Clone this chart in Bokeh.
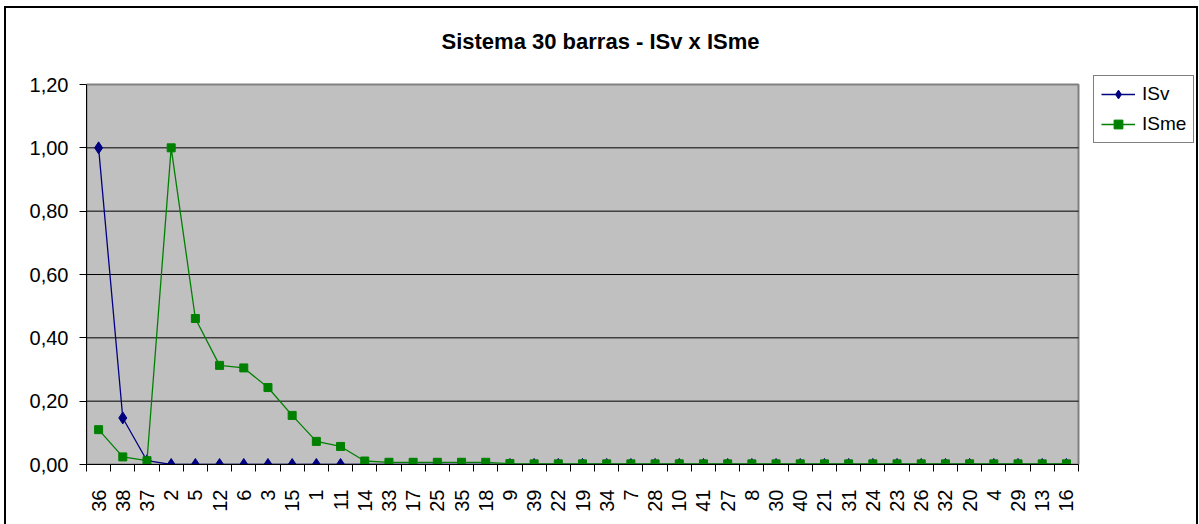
import math
from bokeh.plotting import figure
from bokeh.models import FixedTicker, Legend, LegendItem, Range1d, Label
from bokeh.embed import file_html
from bokeh.resources import INLINE

categories = ["36", "38", "37", "2", "5", "12", "6", "3", "15", "1", "11", "14", "33", "17",
              "25", "35", "18", "9", "39", "22", "19", "34", "7", "28", "10", "41", "27", "8",
              "30", "40", "21", "31", "24", "23", "26", "32", "20", "4", "29", "13", "16"]

isv = [1.000, 0.147, 0.012, 0.000, 0.000, 0.000, 0.000, 0.000, 0.000, 0.000, 0.000, 0.000,
       0.000, 0.000, 0.000, 0.000, 0.000, 0.000, 0.000, 0.000, 0.000, 0.000, 0.000, 0.000,
       0.000, 0.000, 0.000, 0.000, 0.000, 0.000, 0.000, 0.000, 0.000, 0.000, 0.000, 0.000,
       0.000, 0.000, 0.000, 0.000, 0.000]

isme = [0.110, 0.024, 0.012, 1.000, 0.461, 0.313, 0.305, 0.243, 0.155, 0.073, 0.057, 0.011,
        0.007, 0.007, 0.007, 0.007, 0.007, 0.003, 0.002, 0.002, 0.002, 0.002, 0.002, 0.002,
        0.002, 0.002, 0.002, 0.002, 0.002, 0.002, 0.002, 0.002, 0.002, 0.002, 0.002, 0.002,
        0.002, 0.002, 0.002, 0.002, 0.002]

y_ticks = [0.0, 0.2, 0.4, 0.6, 0.8, 1.0, 1.2]
y_labels = ["0,00", "0,20", "0,40", "0,60", "0,80", "1,00", "1,20"]

TITLE = "Sistema 30 barras - ISv x ISme"
FONT = "Liberation Sans"
n = len(categories)
xs = [i + 0.5 for i in range(n)]
y_top = y_ticks[-1]

# layout (pixels, page coordinates of the reference)
AREA_LEFT, AREA_RIGHT = 86, 1078     # grey plot area
AREA_TOP, AREA_BOTTOM = 84, 464
FRAME_TOP, FRAME_RIGHT = 10, 1196
FRAME_W = FRAME_RIGHT - AREA_LEFT
FRAME_H = AREA_BOTTOM - FRAME_TOP
px_x = (AREA_RIGHT - AREA_LEFT) / n          # pixels per category
px_y = (AREA_BOTTOM - AREA_TOP) / y_top      # pixels per unit
x_end = FRAME_W / px_x
y_end = FRAME_H / px_y

p = figure(frame_width=FRAME_W, frame_height=FRAME_H, output_backend="svg",
           toolbar_location=None, title_location=None,
           x_range=Range1d(0, x_end), y_range=Range1d(0, y_end),
           min_border_left=80, min_border_right=0, min_border_top=2, min_border_bottom=60)
p.styles = {"border-top": "2px solid black", "border-left": "2px solid black",
            "border-right": "2px solid black", "margin-left": "4px", "margin-top": "6px"}

p.background_fill_color = "white"
p.border_fill_color = "white"
p.outline_line_color = None

# title
p.add_layout(Label(x=(600 - AREA_LEFT) / px_x, y=(AREA_BOTTOM - 41) / px_y, text=TITLE,
                   text_align="center", text_baseline="alphabetic",
                   text_font=FONT, text_font_size="22px", text_font_style="bold",
                   text_color="black"))

# grey plot area and its gridlines
p.quad(left=[0], right=[n], bottom=[0], top=[y_top], fill_color="#C0C0C0",
       line_color="#808080", line_width=2)
p.segment(x0=[0] * (len(y_ticks) - 2), x1=[n] * (len(y_ticks) - 2),
          y0=y_ticks[1:-1], y1=y_ticks[1:-1], line_color="black", line_width=1)

# y axis
p.yaxis.bounds = (0, y_top)
p.yaxis.ticker = FixedTicker(ticks=y_ticks)
p.yaxis.major_label_overrides = {t: l for t, l in zip(y_ticks, y_labels)}
p.yaxis.major_label_text_font = FONT
p.yaxis.major_label_text_font_size = "20px"
p.yaxis.major_label_text_color = "black"
p.yaxis.major_tick_out = 7
p.yaxis.major_tick_in = 0
p.yaxis.minor_tick_out = 0
p.yaxis.minor_tick_in = 0
p.yaxis.major_label_standoff = 11
p.yaxis.axis_line_color = "black"
p.yaxis.major_tick_line_color = "black"

# x axis
p.xaxis.bounds = (0, n)
p.xaxis.ticker = FixedTicker(ticks=xs, minor_ticks=list(range(n + 1)))
p.xaxis.major_label_overrides = {x: c for x, c in zip(xs, categories)}
p.xaxis.major_label_orientation = math.pi / 2
p.xaxis.major_label_text_font = FONT
p.xaxis.major_label_text_font_size = "20px"
p.xaxis.major_label_text_color = "black"
p.xaxis.major_tick_out = 0
p.xaxis.major_tick_in = 0
p.xaxis.minor_tick_out = 7
p.xaxis.minor_tick_in = 0
p.xaxis.minor_tick_line_color = "black"
p.xaxis.major_label_standoff = 18
p.xaxis.axis_line_color = "black"

p.xgrid.grid_line_color = None
p.ygrid.grid_line_color = None

l1 = p.line(xs, isv, line_color="#000080", line_width=1.3)
m1 = p.scatter(xs, isv, marker="diamond", size=12, fill_color="#000080", line_color="#000080")
l2 = p.line(xs, isme, line_color="#008000", line_width=1.3)
m2 = p.scatter(xs, isme, marker="square", size=8, fill_color="#008000", line_color="#008000")

legend = Legend(items=[LegendItem(label="ISv", renderers=[l1, m1]),
                       LegendItem(label="ISme", renderers=[l2, m2])],
                location=(1093 - AREA_LEFT, AREA_BOTTOM - 143), orientation="vertical",
                label_text_font=FONT, label_text_font_size="19px", label_text_color="black",
                glyph_width=34, glyph_height=22, label_height=22, label_standoff=7,
                padding=7, spacing=8,
                margin=0, border_line_color="black", border_line_width=1,
                background_fill_color="white", background_fill_alpha=1.0)
p.add_layout(legend, "center")

open("out.html", "w").write(file_html(p, INLINE))
